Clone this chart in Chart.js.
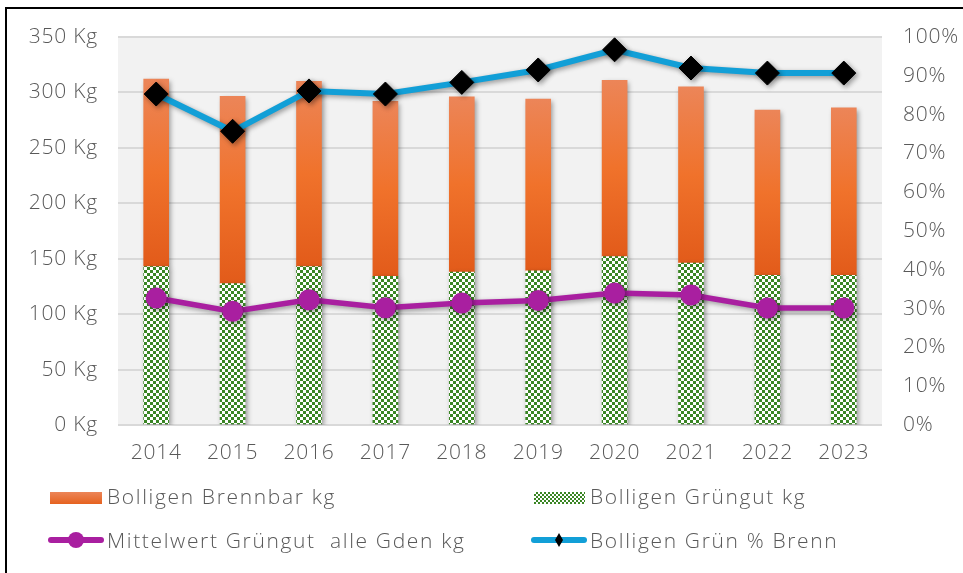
<!DOCTYPE html>
<html><head><meta charset="utf-8">
<script src="https://cdn.jsdelivr.net/npm/chart.js@4.4.1/dist/chart.umd.min.js"></script>
<style>
html,body{margin:0;padding:0;background:#fff;}
#wrap{position:relative;width:963px;height:573px;overflow:hidden;background:#fff;}
#frame{position:absolute;left:5px;top:7px;width:1100px;height:1100px;border-left:2px solid #000;border-top:2px solid #000;box-sizing:border-box;}
#c{position:absolute;left:0;top:0;}
.sw{position:absolute;}
.txt{position:absolute;font-family:'Open Sans',sans-serif;font-weight:300;font-size:21px;line-height:24px;letter-spacing:1.65px;color:#595959;white-space:pre;}
</style></head>
<body>
<div id="wrap">
  <div id="frame"></div>
  <canvas id="c" width="963" height="573"></canvas>
  <div id="legend"></div>
</div>
<script>
const years = ['2014','2015','2016','2017','2018','2019','2020','2021','2022','2023'];
const brennbarKg = [169, 169, 167, 158, 158, 155, 159, 159, 149, 151];
const gruengutKg = [143, 127.5, 143, 134, 138, 139, 152, 146, 135, 135];
const mittelwertKg = [114.5, 102.5, 113, 105.8, 110, 112.4, 119, 117.3, 105.5, 105.5];
const gruenProzent = [85.3, 75.7, 86.1, 85.3, 88.3, 91.5, 96.7, 92, 90.7, 90.7];
const kgTicks = [0, 50, 100, 150, 200, 250, 300, 350];
const pctTicks = [0, 10, 20, 30, 40, 50, 60, 70, 80, 90, 100];
const seriesNames = ['Bolligen Brennbar kg', 'Bolligen Grüngut kg', 'Mittelwert Grüngut  alle Gden kg', 'Bolligen Grün % Brenn'];

const GREEN = '#3A8624', PURPLE = '#A91FA0', BLUE = '#129FD7', TXT = '#595959';

function checker(size){
  const p = document.createElement('canvas');
  p.width = size*2; p.height = size*2;
  const c = p.getContext('2d');
  c.fillStyle = '#ffffff'; c.fillRect(0,0,size*2,size*2);
  c.fillStyle = GREEN; c.fillRect(0,0,size,size); c.fillRect(size,size,size,size);
  return document.getElementById('c').getContext('2d').createPattern(p,'repeat');
}
const greenPattern = checker(3);

const bgPlugin = {
  id:'bg',
  beforeDraw(chart){
    const {ctx, chartArea:a} = chart;
    ctx.letterSpacing = '0.8px';
    ctx.save(); ctx.fillStyle = '#F2F2F2';
    ctx.fillRect(a.left, a.top, a.right-a.left, a.bottom-a.top);
    ctx.restore();
  }
};
const shadowPlugin = {
  id:'shadow',
  beforeDatasetDraw(chart){
    const c = chart.ctx; c.save();
    c.shadowColor = 'rgba(0,0,0,0.38)'; c.shadowBlur = 5; c.shadowOffsetX = 2; c.shadowOffsetY = 2;
  },
  afterDatasetDraw(chart){ chart.ctx.restore(); }
};

const font = {family:"'Open Sans', sans-serif", size:21, weight:300};

new Chart(document.getElementById('c'), {
  type:'bar',
  data:{
    labels: years,
    datasets:[
      {type:'line', label:seriesNames[3], data:gruenProzent, yAxisID:'y1', order:0,
       borderColor:BLUE, borderWidth:6, pointStyle:'rectRot', pointRadius:12, pointHoverRadius:12,
       pointBackgroundColor:'#000', pointBorderColor:'#000', pointBorderWidth:1, tension:0},
      {type:'line', label:seriesNames[2], data:mittelwertKg, yAxisID:'y', order:1,
       borderColor:PURPLE, borderWidth:5.5, pointStyle:'circle', pointRadius:10.5, pointHoverRadius:10.5,
       pointBackgroundColor:PURPLE, pointBorderColor:PURPLE, pointBorderWidth:0, tension:0},
      {label:seriesNames[1], data:gruengutKg, yAxisID:'y', order:2, stack:'s',
       backgroundColor:greenPattern, barThickness:25, borderWidth:0},
      {label:seriesNames[0], data:brennbarKg, yAxisID:'y', order:3, stack:'s', barThickness:25, borderWidth:0,
       backgroundColor:(ctx)=>{
         const ch = ctx.chart; const sc = ch.scales;
         if (!ch.chartArea || !sc.y || ctx.type !== 'data') return '#EE7434';
         const i = ctx.dataIndex;
         const yt = sc.y.getPixelForValue(gruengutKg[i] + brennbarKg[i]);
         const yb = sc.y.getPixelForValue(gruengutKg[i]);
         if (!isFinite(yt) || !isFinite(yb) || yt===yb) return '#EE7434';
         const g = ch.ctx.createLinearGradient(0, yt, 0, yb);
         g.addColorStop(0, '#EC8558'); g.addColorStop(0.5, '#F0722B'); g.addColorStop(1, '#E25B1A');
         return g;
       }}
    ]
  },
  options:{
    responsive:false, animation:false, events:[],
    layout:{padding:{top:37, left:0, right:0, bottom:0}},
    plugins:{legend:{display:false}, tooltip:{enabled:false}},
    scales:{
      x:{stacked:true, grid:{display:false, drawTicks:false}, border:{display:false},
         ticks:{color:TXT, font, padding:15, maxRotation:0},
         afterFit(s){ s.height = 148; }},
      y:{stacked:true, position:'left', min:0, max:350,
         grid:{color:'#D9D9D9', lineWidth:2, drawTicks:false}, border:{display:false},
         afterBuildTicks(s){ s.ticks = kgTicks.map(v=>({value:v})); },
         ticks:{color:TXT, font, padding:20, callback:v=>v+' Kg'},
         afterFit(s){ s.width = 118; }},
      y1:{position:'right', min:0, max:100,
         grid:{drawOnChartArea:false, drawTicks:false}, border:{display:false},
         afterBuildTicks(s){ s.ticks = pctTicks.map(v=>({value:v})); },
         ticks:{color:TXT, font, padding:21, callback:v=>v+'%'},
         afterFit(s){ s.width = 81; }}
    }
  },
  plugins:[bgPlugin, shadowPlugin]
});

// HTML legend
const lg = document.getElementById('legend');
function add(html){ lg.insertAdjacentHTML('beforeend', html); }
add(`<div class="sw" style="left:50px;top:492px;width:52px;height:12px;background:linear-gradient(#EC8558,#E6621F);"></div>`);
add(`<div class="txt" style="left:107px;top:484px;">${seriesNames[0]}</div>`);
add(`<div class="sw" style="left:534px;top:492px;width:51px;height:12px;background-image:conic-gradient(${GREEN} 25%, #fff 0 50%, ${GREEN} 0 75%, #fff 0);background-size:4px 4px;"></div>`);
add(`<div class="txt" style="left:590px;top:484px;">${seriesNames[1]}</div>`);
add(`<div class="sw" style="left:48px;top:537px;width:56px;height:6px;border-radius:3px;background:${PURPLE};"></div>`);
add(`<div class="sw" style="left:68px;top:532px;width:16px;height:16px;border-radius:50%;background:${PURPLE};"></div>`);
add(`<div class="txt" style="left:107px;top:528px;">${seriesNames[2]}</div>`);
add(`<div class="sw" style="left:531px;top:537px;width:56px;height:6px;border-radius:3px;background:${BLUE};"></div>`);
add(`<div class="sw" style="left:555px;top:533px;width:8px;height:14px;background:#000;clip-path:polygon(50% 0,100% 50%,50% 100%,0 50%);"></div>`);
add(`<div class="txt" style="left:590px;top:528px;">${seriesNames[3]}</div>`);
</script>
</body></html>
